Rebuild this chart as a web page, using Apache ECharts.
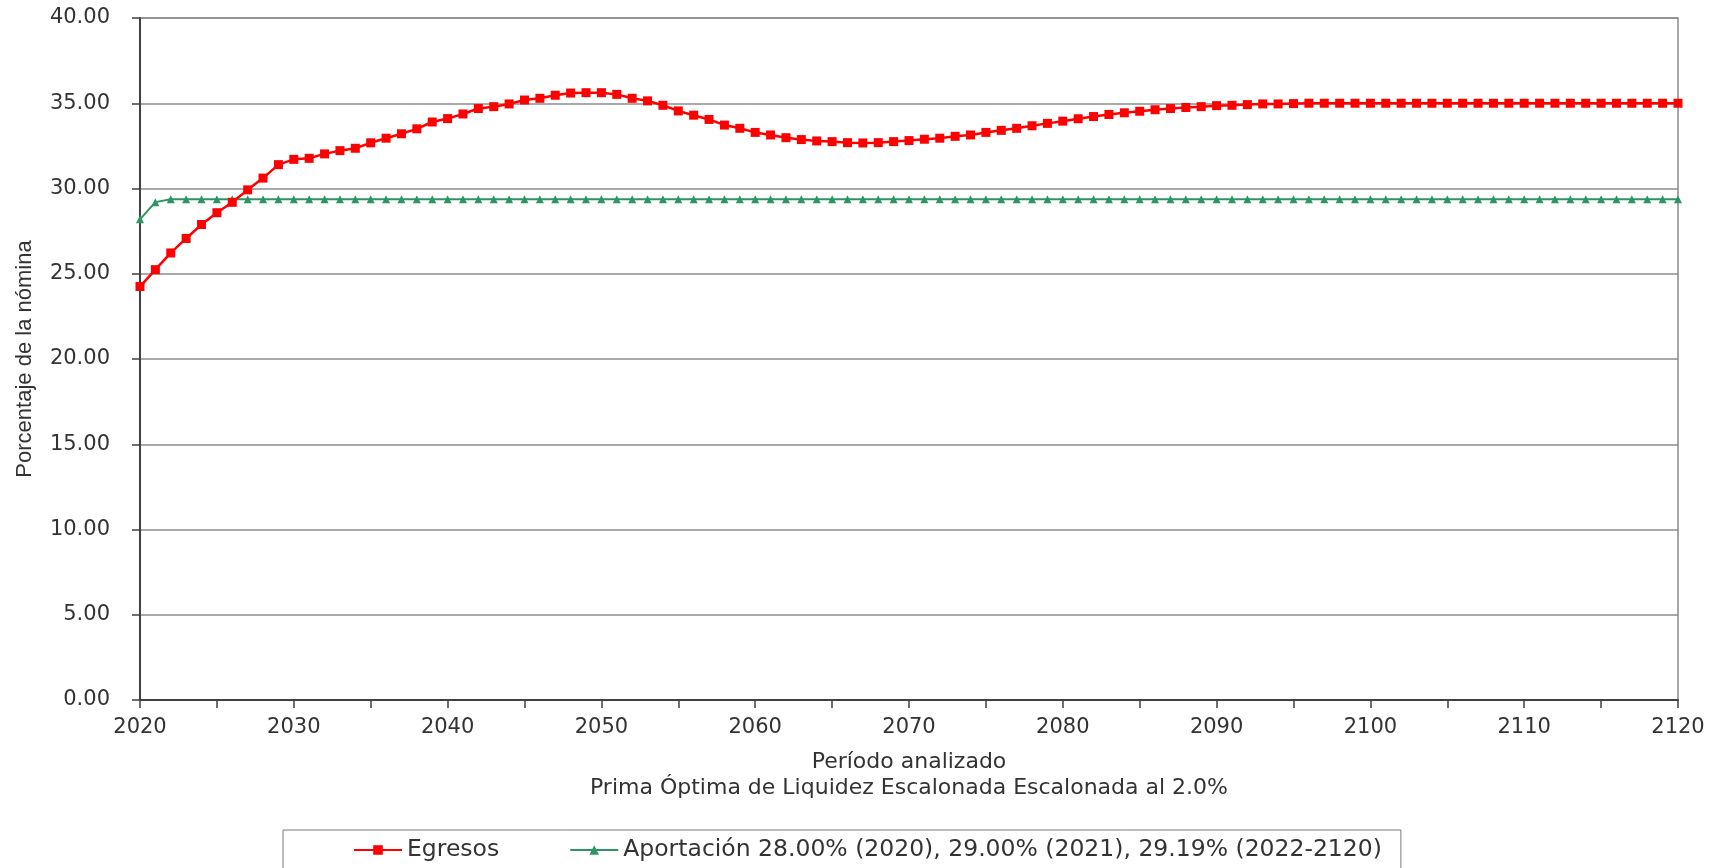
<!DOCTYPE html>
<html>
<head>
<meta charset="utf-8">
<script src="https://cdn.jsdelivr.net/npm/echarts@6/dist/echarts.min.js"></script>
<style>
html,body{margin:0;padding:0;background:#fff;}
#chart{width:1719px;height:868px;}
</style>
</head>
<body>
<div id="chart"></div>
<script>
// ---- Data ----
var startYear = 2020;
var endYear = 2120;
var yTickLabels = ['0.00','5.00','10.00','15.00','20.00','25.00','30.00','35.00','40.00'];
var seriesNames = ['Egresos', 'Aportación 28.00% (2020), 29.00% (2021), 29.19% (2022-2120)'];
var xAxisTitle = 'Período analizado';
var xAxisSubtitle = 'Prima Óptima de Liquidez Escalonada Escalonada al 2.0%';
var yAxisTitle = 'Porcentaje de la nómina';

var egresos = [
  24.25, 25.24, 26.22, 27.07, 27.89, 28.58, 29.19, 29.92, 30.61, 31.40,
  31.71, 31.77, 32.03, 32.22, 32.36, 32.68, 32.95, 33.21, 33.50, 33.90,
  34.10, 34.37, 34.69, 34.80, 34.96, 35.19, 35.29, 35.47, 35.60, 35.62,
  35.62, 35.52, 35.29, 35.14, 34.88, 34.55, 34.30, 34.05, 33.72, 33.53,
  33.29, 33.14, 32.98, 32.87, 32.79, 32.75, 32.69, 32.67, 32.69, 32.75,
  32.81, 32.89, 32.95, 33.06, 33.14, 33.29, 33.41, 33.53, 33.68, 33.82,
  33.95, 34.09, 34.22, 34.34, 34.44, 34.53, 34.62, 34.69, 34.75, 34.80,
  34.86, 34.88, 34.92, 34.96, 34.96, 34.98, 35.00, 35.00, 35.00, 35.00,
  35.00, 35.00, 35.00, 35.00, 35.00, 35.00, 35.00, 35.00, 35.00, 35.00,
  35.00, 35.00, 35.00, 35.00, 35.00, 35.00, 35.00, 35.00, 35.00, 35.00,
  35.00
];

var aportacion = [
  28.19, 29.20, 29.37, 29.37, 29.37, 29.37, 29.37, 29.37, 29.37, 29.37,
  29.37, 29.37, 29.37, 29.37, 29.37, 29.37, 29.37, 29.37, 29.37, 29.37,
  29.37, 29.37, 29.37, 29.37, 29.37, 29.37, 29.37, 29.37, 29.37, 29.37,
  29.37, 29.37, 29.37, 29.37, 29.37, 29.37, 29.37, 29.37, 29.37, 29.37,
  29.37, 29.37, 29.37, 29.37, 29.37, 29.37, 29.37, 29.37, 29.37, 29.37,
  29.37, 29.37, 29.37, 29.37, 29.37, 29.37, 29.37, 29.37, 29.37, 29.37,
  29.37, 29.37, 29.37, 29.37, 29.37, 29.37, 29.37, 29.37, 29.37, 29.37,
  29.37, 29.37, 29.37, 29.37, 29.37, 29.37, 29.37, 29.37, 29.37, 29.37,
  29.37, 29.37, 29.37, 29.37, 29.37, 29.37, 29.37, 29.37, 29.37, 29.37,
  29.37, 29.37, 29.37, 29.37, 29.37, 29.37, 29.37, 29.37, 29.37, 29.37,
  29.37
];

var years = [];
for (var y = startYear; y <= endYear; y++) years.push(String(y));

// ---- Chart ----
var chart = echarts.init(document.getElementById('chart'), null, {renderer: 'canvas'});
var tickFont = 'DejaVu Sans';
var option = {
  animation: false,
  backgroundColor: '#ffffff',
  grid: {
    left: 140, right: 41, top: 18, bottom: 168,
    show: true, borderColor: '#8a8a8a', borderWidth: 1.5, backgroundColor: 'transparent'
  },
  legend: {
    left: 283, top: 830,
    padding: [8, 19, 8, 70],
    borderColor: '#7a7a7a', borderWidth: 1,
    itemWidth: 48, itemHeight: 12, itemGap: 70,
    textStyle: {fontFamily: tickFont, fontSize: 23.5, color: '#333'},
    data: seriesNames
  },
  xAxis: {
    type: 'category',
    data: years,
    boundaryGap: false,
    name: xAxisTitle + '\n' + xAxisSubtitle,
    nameLocation: 'middle',
    nameGap: 49,
    nameTextStyle: {fontFamily: tickFont, fontSize: 22, color: '#333', lineHeight: 26},
    axisLine: {show: true, lineStyle: {color: '#404040', width: 2}},
    axisTick: {show: true, interval: 4, length: 8, inside: false, lineStyle: {color: '#404040', width: 1.5}},
    axisLabel: {interval: 9, margin: 17, fontFamily: tickFont, fontSize: 21, color: '#333'},
    splitLine: {show: false}
  },
  yAxis: {
    type: 'value',
    min: 0, max: 40, interval: 5,
    name: yAxisTitle,
    nameLocation: 'middle',
    nameGap: 104,
    nameRotate: 90,
    nameTextStyle: {fontFamily: 'Liberation Sans', fontSize: 22, color: '#333'},
    axisLine: {show: true, lineStyle: {color: '#404040', width: 2}},
    axisTick: {show: true, length: 8, inside: false, lineStyle: {color: '#404040', width: 1.5}},
    axisLabel: {
      margin: 30, fontFamily: tickFont, fontSize: 21, color: '#333',
      formatter: function (v) { return yTickLabels[Math.round(v / 5)]; }
    },
    splitLine: {show: true, lineStyle: {color: '#8c8c8c', width: 1.5}}
  },
  series: [
    {
      name: seriesNames[0],
      type: 'line',
      data: egresos,
      symbol: 'rect',
      symbolSize: 9,
      showAllSymbol: true,
      lineStyle: {color: '#ff0000', width: 2.5},
      itemStyle: {color: '#ff0000'},
      z: 3
    },
    {
      name: seriesNames[1],
      type: 'line',
      data: aportacion,
      symbol: 'triangle',
      symbolSize: 8,
      showAllSymbol: true,
      lineStyle: {color: '#2e9466', width: 2},
      itemStyle: {color: '#2e9466'},
      z: 2
    }
  ]
};
chart.setOption(option);
</script>
</body>
</html>
